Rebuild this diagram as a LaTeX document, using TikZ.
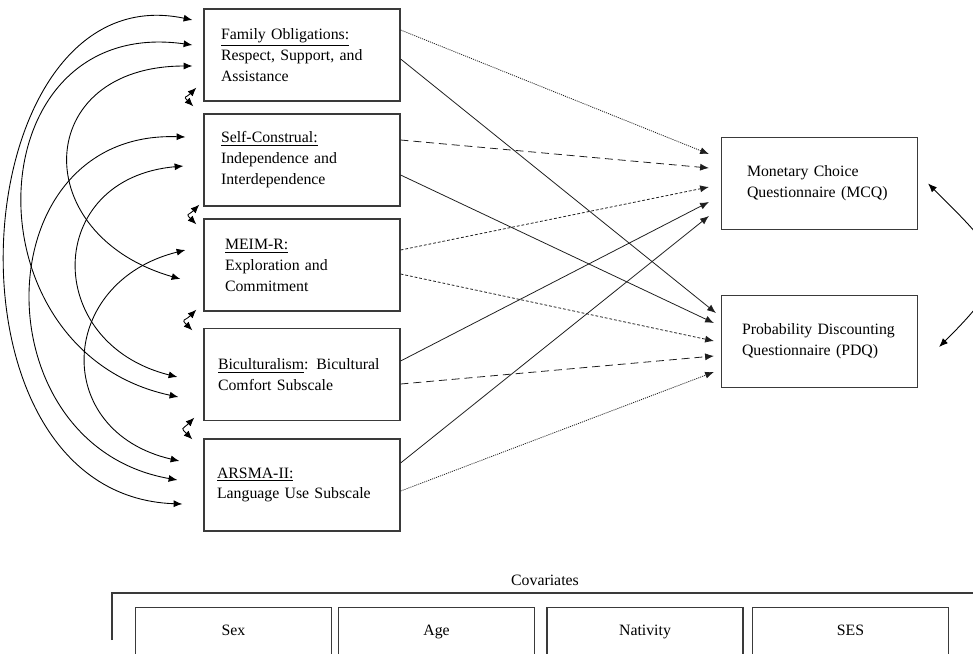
\documentclass[tikz,border=0pt]{standalone}
\usepackage{fontspec}
\setmainfont{Liberation Serif}
\usepackage{tikz}
\usetikzlibrary{arrows.meta}
\definecolor{boxline}{HTML}{3A3A3A}
\definecolor{pathline}{HTML}{1E1E1E}

\begin{document}
\begin{tikzpicture}[
    x=0.02cm, y=0.02cm,
    every node/.style={font=\fontsize{9}{11.9}\selectfont},
    varbox/.style={draw=boxline, line width=0.7pt, minimum width=3.92cm, minimum height=1.84cm, align=left, inner sep=0pt},
    covbox/.style={draw=boxline, line width=0.7pt, minimum width=3.92cm, minimum height=1.4cm, anchor=north, inner sep=0pt, text height=0.25cm, text depth=0.52cm},
    pathsolid/.style={draw=pathline, line width=0.45pt, -{Latex[length=5pt,width=4pt]}},
    pathdash/.style={pathsolid, dash pattern=on 4.5pt off 2.8pt},
    pathdot/.style={pathsolid, dash pattern=on 1.6pt off 1.1pt},
    pathfine/.style={pathsolid, dash pattern=on 0.6pt off 0.6pt},
    corr/.style={draw=black, line width=0.5pt, {Latex[length=5pt,width=4pt]}-{Latex[length=5pt,width=4pt]}},
]
% Page: 973 x 653 units, 1 unit = 1 px of the layout
\useasboundingbox (0,0) rectangle (973,-653);
\clip (0,0) rectangle (973,-653);
% Predictors (left column)
\node[varbox, text width=3.24cm] (fam) at (302,-55) {\underline{Family Obligations:}\\Respect, Support, and\\Assistance};
\node[varbox, text width=3.24cm] (self) at (302,-160) {\underline{Self-Construal:}\\Independence and\\Interdependence};
\node[varbox, text width=3.08cm] (meim) at (302,-265) {\underline{MEIM-R:}\\Exploration and\\Commitment};
\node[varbox, text width=3.36cm] (bic) at (302,-374.5) {\underline{Biculturalism}: Bicultural\\Comfort Subscale};
\node[varbox, text width=3.40cm] (ars) at (302,-485) {\underline{ARSMA-II:}\\Language Use Subscale};
% Outcomes (right column)
\node[varbox, text width=2.90cm] (mcq) at (819.5,-183.5) {Monetary Choice\\Questionnaire (MCQ)};
\node[varbox, text width=3.10cm] (pdq) at (819.5,-341.5) {Probability Discounting\\Questionnaire (PDQ)};
% Paths to MCQ and PDQ
\draw[pathfine] ([shift={(0,25)}]fam.east) -- ([shift={(-12,29.5)}]mcq.west);
\draw[pathsolid] ([shift={(0,-4)}]fam.east) -- ([shift={(-5,28.5)}]pdq.west);
\draw[pathdash] ([shift={(0,20)}]self.east) -- ([shift={(-12,15.5)}]mcq.west);
\draw[pathsolid] ([shift={(0,-15)}]self.east) -- ([shift={(-7,18.5)}]pdq.west);
\draw[pathdot] ([shift={(0,15)}]meim.east) -- ([shift={(-12,-3.5)}]mcq.west);
\draw[pathdot] ([shift={(0,-9)}]meim.east) -- ([shift={(-7,0.5)}]pdq.west);
\draw[pathsolid] ([shift={(0,13.5)}]bic.east) -- ([shift={(-12,-18.5)}]mcq.west);
\draw[pathdash] ([shift={(0,-9.5)}]bic.east) -- ([shift={(-7,-14.5)}]pdq.west);
\draw[pathsolid] ([shift={(0,22)}]ars.east) -- ([shift={(-12,-32.5)}]mcq.west);
\draw[pathfine] ([shift={(0,-6)}]ars.east) -- ([shift={(-7,-30.5)}]pdq.west);
% Outcome correlation
\draw[corr] ([shift={(10,0)}]mcq.east) .. controls +(-45:110) and +(45:110) .. ([shift={(21,-5.5)}]pdq.east);
% Predictor correlations, neighbours
\draw[corr] ([shift={(-7,14)}]fam.south west) to[out=225, in=135, looseness=2] ([shift={(-10,7)}]self.north west);
\draw[corr] ([shift={(-4,2)}]self.south west) to[out=225, in=135, looseness=2] ([shift={(-7,-6)}]meim.north west);
\draw[corr] ([shift={(-7,2)}]meim.south west) to[out=225, in=135, looseness=2] ([shift={(-11,-2.5)}]bic.north west);
\draw[corr] ([shift={(-9,3.5)}]bic.south west) to[out=225, in=135, looseness=2] ([shift={(-11,-1)}]ars.north west);
% Predictor correlations, long arcs
\draw[corr] ([shift={(-11,35)}]fam.west) .. controls +(168:235) and +(178:255) .. ([shift={(-21,-19)}]ars.west);
\draw[corr] ([shift={(-11,10)}]fam.west) .. controls +(172:220) and +(168:220) .. ([shift={(-25,-22.5)}]bic.west);
\draw[corr] ([shift={(-11,-11)}]fam.west) .. controls +(180:160) and +(164:160) .. ([shift={(-23,-14)}]meim.west);
\draw[corr] ([shift={(-18,23)}]self.west) .. controls +(178:202) and +(170:202) .. ([shift={(-26,5)}]ars.west);
\draw[corr] ([shift={(-20,-6)}]self.west) .. controls +(185:140) and +(166:140) .. ([shift={(-26,-2.5)}]bic.west);
\draw[corr] ([shift={(-18,15)}]meim.west) .. controls +(194:132) and +(167:132) .. ([shift={(-24,24)}]ars.west);
% Covariates
\node (covlbl) at (545,-580) {Covariates};
\draw[boxline, line width=0.7pt] (112,-640) |- (985,-593);
\node[covbox] (sex) at (233.5,-607) {Sex};
\node[covbox] (age) at (436.5,-607) {Age};
\node[covbox] (nat) at (645,-607) {Nativity};
\node[covbox] (ses) at (850.5,-607) {SES};
\end{tikzpicture}
\end{document}
